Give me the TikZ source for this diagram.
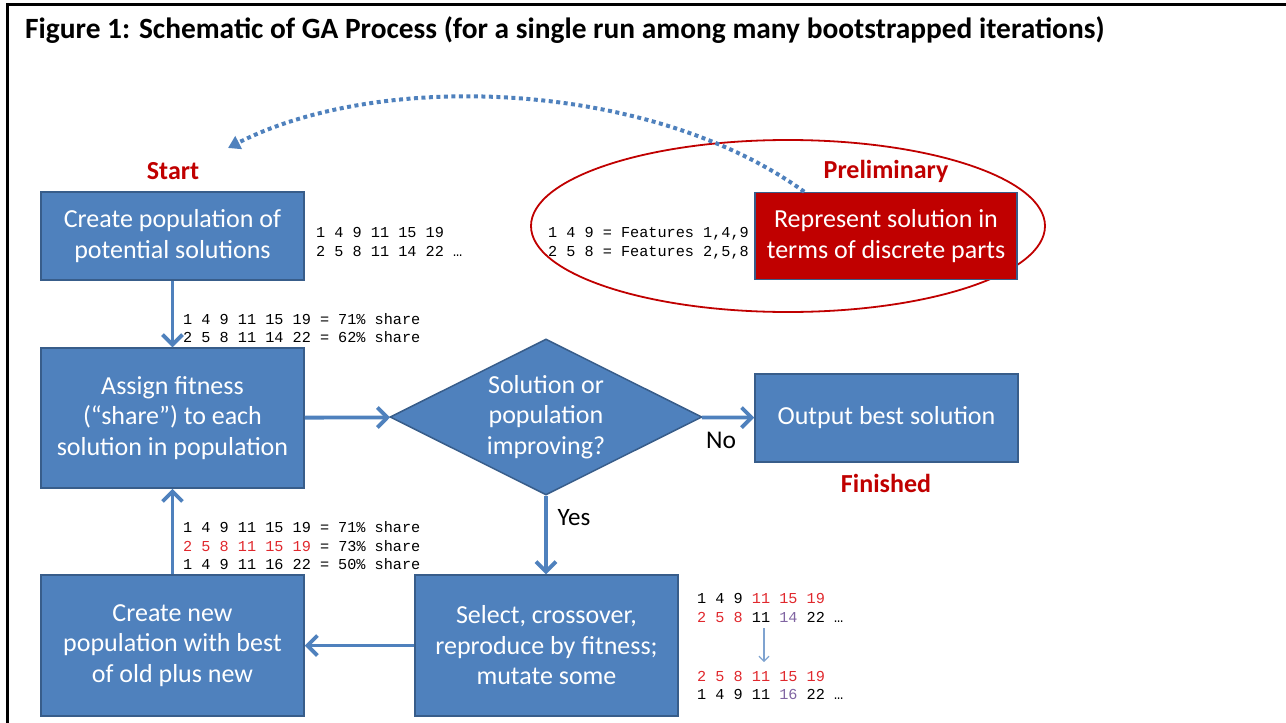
\documentclass[tikz,border=0pt]{standalone}
\usepackage{fontspec}
\setmainfont{Carlito}
\newfontfamily\monofont{Liberation Mono}
\usetikzlibrary{shapes.geometric,arrows.meta}
\definecolor{boxblue}{HTML}{4F81BD}
\definecolor{boxedge}{HTML}{385D8A}
\definecolor{darkred}{HTML}{C00000}
\definecolor{numred}{HTML}{E0282D}
\definecolor{numpurple}{HTML}{8064A2}
\definecolor{thinblue}{HTML}{7FA3D0}
\newcommand{\rd}[1]{\textcolor{numred}{#1}}
\newcommand{\pu}[1]{\textcolor{numpurple}{#1}}

\begin{document}
\begin{tikzpicture}[x=1pt,y=-1pt,
  procbox/.style={draw=boxedge,line width=1.5pt,fill=boxblue,text=white,align=center,
    minimum width=263pt,minimum height=88pt,inner sep=0pt,
    font=\fontsize{26}{30.5}\selectfont},
  tag/.style={text=darkred,font=\fontsize{26}{30}\selectfont\bfseries},
  codeline/.style={anchor=base west,inner sep=0pt,font=\monofont\fontsize{15.2}{19}\selectfont},
  flow/.style={draw=boxblue,line width=3.8pt,-{Straight Barb[length=10pt,width=20pt]}}]
\useasboundingbox (0,0) rectangle (1286,723);
% frame and title
\draw[line width=3pt] (7,723) -- (7,4.5) -- (1286,4.5);
\node[anchor=base west,inner sep=0pt,font=\fontsize{29.4}{32}\selectfont\bfseries] (title) at (25,38)
  {Figure 1: Schematic of GA Process (for a single run among many bootstrapped iterations)};
% preliminary step inside the ellipse
\draw[darkred,line width=1.8pt] (788,226) ellipse [x radius=257,y radius=86];
\node[procbox,fill=darkred,minimum width=262pt,minimum height=87pt] (represent) at (886,236)
  {Represent solution in\\terms of discrete parts};
\node[tag] (prelim) at (886,171) {Preliminary};
\node[codeline,anchor=base east] (featA) at (749,237) {1 4 9 = Features 1,4,9};
\node[codeline,anchor=base east] (featB) at (749,256) {2 5 8 = Features 2,5,8};
% main loop
\node[tag] (start) at (173,171) {Start};
\node[procbox] (create) at (172.5,236) {Create population of\\potential solutions};
\node[procbox,minimum height=140pt] (assign) at (172.5,418)
  {Assign fitness\\(“share”) to each\\solution in population};
\node[diamond,draw=boxedge,line width=1.5pt,fill=boxblue,minimum width=312pt,minimum height=156pt,
  inner sep=0pt] (decide) at (546,417) {};
\node[text=white,align=center,font=\fontsize{26}{30.5}\selectfont] (decidetext) at (decide)
  {Solution or\\population\\improving?};
\node[procbox] (output) at (886.5,418) {Output best solution};
\node[tag] (finished) at (886,483) {Finished};
\node[procbox,minimum height=141pt] (select) at (546.5,645.5)
  {Select, crossover,\\reproduce by fitness;\\mutate some};
\node[procbox,minimum height=141pt] (newpop) at (172.5,645.5)
  {Create new\\population with best\\of old plus new};
% connectors
\draw[flow] (create) -- (assign);
\draw[flow] (assign) -- (decide);
\draw[flow] (decide) -- (output);
\draw[flow] (decide.south) -- (decide.south |- select.north);
\draw[flow] (select) -- (newpop);
\draw[flow] (newpop) -- (assign);
\node[font=\fontsize{25.5}{30}\selectfont] (no) at (721,440) {No};
\node[font=\fontsize{25}{30}\selectfont] (yes) at (574,518) {Yes};
% dotted return from the preliminary step
\coordinate (loopend) at (228,148);
\draw[boxblue,line width=4pt,dash pattern=on 4pt off 3.5pt,-{Triangle[length=12pt,width=14pt]}]
  ([xshift=50pt]represent.north west) .. controls (650,80) and (380,70) .. (loopend);
% candidate codes
\node[codeline] (popA) at (316,237) {1 4 9 11 15 19};
\node[codeline] (popB) at (316,256) {2 5 8 11 14 22 …};
\node[codeline] (shareA) at (183,324) {1 4 9 11 15 19 = 71\% share};
\node[codeline] (shareB) at (183,342) {2 5 8 11 14 22 = 62\% share};
\node[codeline] (newA) at (183,532) {1 4 9 11 15 19 = 71\% share};
\node[codeline] (newB) at (183,551) {\rd{2 5 8 11 15 19} = 73\% share};
\node[codeline] (newC) at (183,569) {1 4 9 11 16 22 = 50\% share};
\node[codeline] (parentA) at (697,603) {1 4 9 \rd{11 15 19}};
\node[codeline] (parentB) at (697,622) {\rd{2 5 8} 11 \pu{14} 22 …};
\node[codeline] (childA) at (697,681) {\rd{2 5 8 11 15 19}};
\node[codeline] (childB) at (697,699) {1 4 9 11 \pu{16} 22 …};
\coordinate (mutA) at (764,628);
\coordinate (mutB) at (764,662);
\draw[thinblue,line width=1.2pt,-{Straight Barb[length=5pt,width=10pt]}] (mutA) -- (mutB);
\end{tikzpicture}
\end{document}
